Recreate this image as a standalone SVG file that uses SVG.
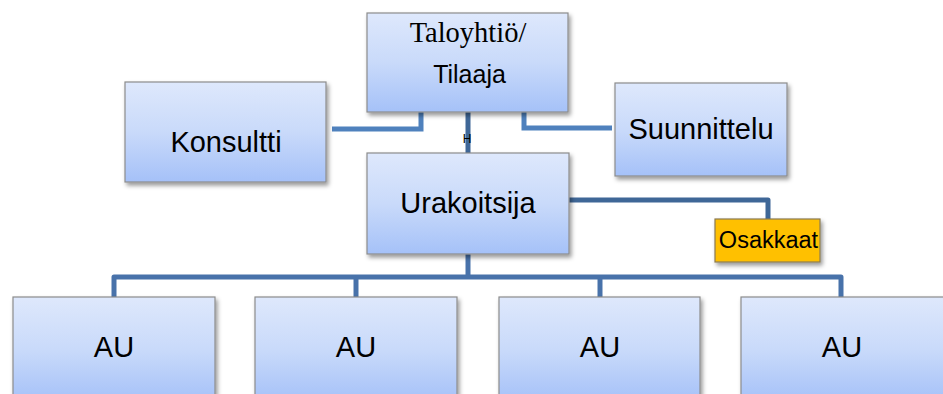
<svg xmlns="http://www.w3.org/2000/svg" width="943" height="394" viewBox="0 0 943 394">
<defs>
<linearGradient id="boxg" x1="0" y1="0" x2="0" y2="1">
<stop offset="0" stop-color="#DEE8FC"/>
<stop offset="0.5" stop-color="#C9DAFA"/>
<stop offset="1" stop-color="#A5C1F8"/>
</linearGradient>
<filter id="sh" x="-10%" y="-10%" width="125%" height="130%">
<feDropShadow dx="2" dy="3" stdDeviation="2.2" flood-color="#000" flood-opacity="0.4"/>
</filter>
</defs>
<style>
.box{fill:url(#boxg);stroke:#8C8C8C;stroke-width:1.2;filter:url(#sh)}
.osk{fill:#FFC000;stroke:#8A7A50;stroke-width:1.2;filter:url(#sh)}
.t{font-family:"Liberation Sans",Arial,sans-serif;font-size:29px;fill:#000;text-anchor:middle}
.c1{fill:none;stroke:#4F81BD;stroke-width:5}
.c2{fill:none;stroke:#3F6797;stroke-width:5}
.c3{fill:none;stroke:#4872AA;stroke-width:5;stroke-linejoin:round}
</style>
<rect width="943" height="394" fill="#fff"/>
<g id="connectors">
<path class="c1" d="M332 129 H421 V108"/>
<path class="c1" d="M612 128 H524 V108"/>
<path class="c2" d="M468 110 V154"/>
<path class="c2" d="M569 200 H768 V220" stroke-linejoin="round"/>
<path class="c3" d="M468 252 V277"/>
<path class="c3" d="M114 298 V277 H841 V298"/>
<path class="c3" d="M356 277 V298"/>
<path class="c3" d="M600 277 V298"/>
<text x="467" y="143" font-family="'Liberation Sans',Arial,sans-serif" font-size="12" text-anchor="middle" fill="#000">H</text>
</g>
<g id="taloyhtio">
<rect class="box" x="367" y="13" width="201" height="99"/>
<text x="468" y="42" font-family="'Liberation Serif','Times New Roman',serif" font-size="28.5" text-anchor="middle" fill="#000">Taloyhtiö/</text>
<text class="t" x="469.5" y="83" style="font-size:25px">Tilaaja</text>
</g>
<g id="konsultti">
<rect class="box" x="125" y="82" width="201" height="100"/>
<text class="t" x="226" y="152">Konsultti</text>
</g>
<g id="suunnittelu">
<rect class="box" x="615" y="83" width="172" height="93"/>
<text class="t" x="701" y="139">Suunnittelu</text>
</g>
<g id="urakoitsija">
<rect class="box" x="367" y="153" width="202" height="101"/>
<text class="t" x="468" y="213">Urakoitsija</text>
</g>
<g id="osakkaat">
<rect class="osk" x="715" y="219" width="105" height="43"/>
<text class="t" x="768.5" y="248" style="font-size:23.5px">Osakkaat</text>
</g>
<g id="au1">
<rect class="box" x="13" y="297" width="202" height="105"/>
<text class="t" x="114" y="357">AU</text>
</g>
<g id="au2">
<rect class="box" x="255" y="297" width="202" height="105"/>
<text class="t" x="356" y="357">AU</text>
</g>
<g id="au3">
<rect class="box" x="499" y="297" width="201" height="105"/>
<text class="t" x="600" y="357">AU</text>
</g>
<g id="au4">
<rect class="box" x="741" y="297" width="203" height="105"/>
<text class="t" x="842" y="357">AU</text>
</g>
</svg>
